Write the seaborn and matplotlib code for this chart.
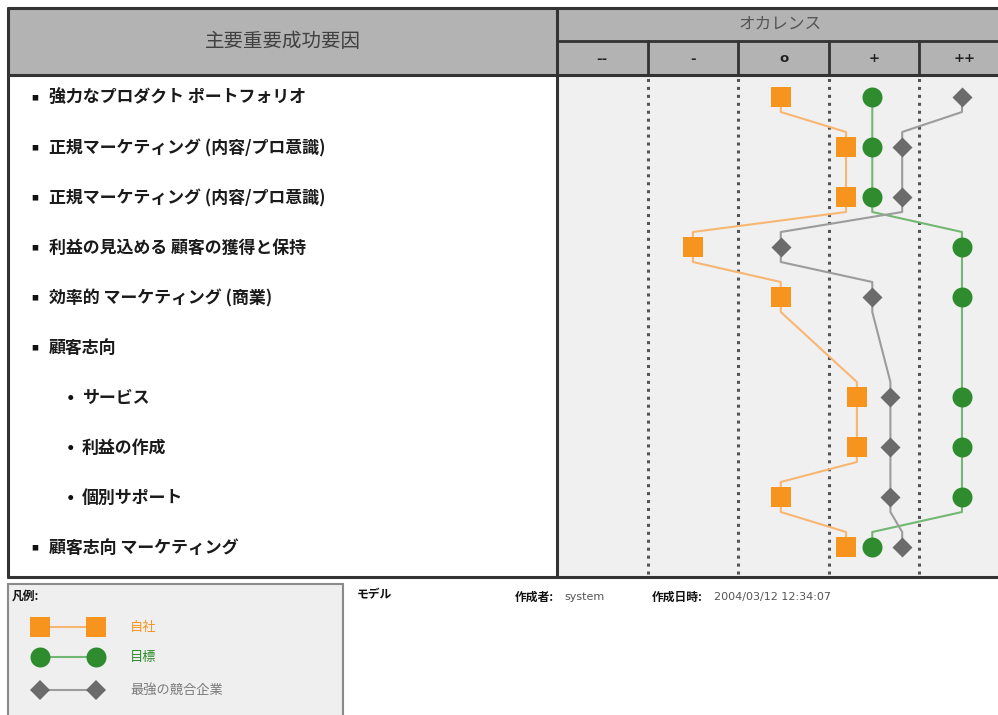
import numpy as np
import pandas as pd
import matplotlib
matplotlib.use("Agg")
import matplotlib.pyplot as plt
import seaborn as sns
from matplotlib.patches import Rectangle
from matplotlib.lines import Line2D

sns.set_style("white")
plt.rcParams['font.family'] = ['Noto Sans CJK JP', 'DejaVu Sans']

# ---------------- data ----------------
factors = ["強力なプロダクト ポートフォリオ",
           "正規マーケティング (内容/プロ意識)",
           "正規マーケティング (内容/プロ意識)",
           "利益の見込める 顧客の獲得と保持",
           "効率的 マーケティング (商業)",
           "顧客志向",
           "サービス",
           "利益の作成",
           "個別サポート",
           "顧客志向 マーケティング"]
levels = [0, 0, 0, 0, 0, 0, 1, 1, 1, 0]
columns = ["--", "-", "o", "+", "++"]
column_title = "オカレンス"
factor_title = "主要重要成功要因"
series_names = ["自社", "目標", "最強の競合企業"]
own = [-0.03, 0.69, 0.69, -1.0, -0.03, np.nan, 0.81, 0.81, -0.03, 0.69]
target = [0.98, 0.98, 0.98, 1.97, 1.97, np.nan, 1.97, 1.97, 1.97, 0.98]
competitor = [1.97, 1.31, 1.31, -0.03, 0.98, np.nan, 1.18, 1.18, 1.18, 1.31]
legend_title = "凡例:"
model_label = "モデル"
author_label = "作成者:"
author = "system"
date_label = "作成日時:"
date_value = "2004/03/12 12:34:07"

# ---------------- styles ----------------
marker_colors = ["#F7941E", "#2E8B2E", "#6B6B6B"]
line_colors = ["#F8B673", "#72B872", "#9C9C9C"]
text_colors = ["#F7941E", "#2E8B2E", "#7A7A7A"]
markers = ["s", "o", "D"]
msizes = [13.8, 14.4, 10.2]   # points

W, H = 998, 715
fig = plt.figure(figsize=(W / 100, H / 100), dpi=100)
fig.patch.set_facecolor("white")


def fx(px):
    return px / W


def fy(py):
    return 1 - py / H


def frect(x0, y0, x1, y1, **kw):
    r = Rectangle((fx(x0), fy(y1)), fx(x1) - fx(x0), fy(y0) - fy(y1),
                  transform=fig.transFigure, **kw)
    fig.add_artist(r)


def fline(x0, y0, x1, y1, **kw):
    fig.add_artist(Line2D([fx(x0), fx(x1)], [fy(y0), fy(y1)],
                          transform=fig.transFigure, **kw))


def ftext(x, y, s, **kw):
    fig.text(fx(x), fy(y), s, **kw)


# table geometry (px)
L, T, B, R = 8, 8, 577, 1010
SPLIT = 557
HROW = 41
HBOT = 75

# header fills
frect(L, T, R, HBOT, facecolor="#B3B3B3", edgecolor="none", zorder=1)
# left body
frect(L, HBOT, SPLIT, B, facecolor="white", edgecolor="none", zorder=1)

# ---------------- data axes ----------------
nrows = len(factors)
row_y0, row_step = 97, 50
ax = fig.add_axes([fx(SPLIT), fy(B), (R - SPLIT) / W, (B - HBOT) / H])
ax.set_facecolor("#F0F0F0")
ax.set_xlim(-2.5, 2.5)
ax.set_ylim((B - row_y0) / row_step, (HBOT - row_y0) / row_step)
for s in ax.spines.values():
    s.set_visible(False)

ax.vlines([-1.5, -0.5, 0.5, 1.5], -5, 15, colors="#555555",
          linestyles=(0, (1, 1.6)), linewidth=2.2, zorder=1)

rows = np.arange(nrows)
all_series = [own, target, competitor]
k = 0.3
for vals, lc in zip(all_series, line_colors):
    xs, ys = [], []
    valid = [(r, v) for r, v in zip(rows, vals) if not np.isnan(v)]
    for j, (r, v) in enumerate(valid):
        xs.append(v)
        ys.append(r - k if j > 0 else r)
        xs.append(v)
        ys.append(r + k if j < len(valid) - 1 else r)
    df = pd.DataFrame({"x": xs, "y": ys})
    sns.lineplot(data=df, x="x", y="y", sort=False, estimator=None,
                 color=lc, linewidth=1.5, ax=ax, zorder=2)

for vals, name, mc, mk, ms in zip(all_series, series_names, marker_colors,
                                  markers, msizes):
    df = pd.DataFrame({"value": vals, "row": rows}).dropna()
    sns.scatterplot(data=df, x="value", y="row", marker=mk, color=mc,
                    s=ms ** 2, linewidth=0, ax=ax, zorder=3, legend=False)
ax.set_xlabel("")
ax.set_ylabel("")
ax.set_xticks([])
ax.set_yticks([])

# ---------------- table lines ----------------
lc_tab = "#333333"
fline(L, T, R, T, color=lc_tab, lw=2.2, zorder=5)
fline(L, B, R, B, color=lc_tab, lw=2.2, zorder=5)
fline(L, T, L, B, color=lc_tab, lw=2.2, zorder=5)
fline(SPLIT, T, SPLIT, B, color=lc_tab, lw=2.2, zorder=5)
fline(L, HBOT, R, HBOT, color=lc_tab, lw=2.2, zorder=5)
fline(SPLIT, HROW, R, HROW, color=lc_tab, lw=2.0, zorder=5)
col_w = (R - SPLIT) / len(columns)
for i in range(1, len(columns)):
    xb = SPLIT + i * col_w
    fline(xb, HROW, xb, HBOT, color=lc_tab, lw=2.0, zorder=5)

# header texts
ftext((L + SPLIT) / 2, (T + HBOT) / 2, factor_title, ha="center", va="center",
      fontsize=14, color="#404040", zorder=6)
ftext((SPLIT + R) / 2 - 3, (T + HROW) / 2, column_title, ha="center",
      va="center", fontsize=12, color="#555555", zorder=6)
for i, c in enumerate(columns):
    cx = SPLIT + (i + 0.5) * col_w
    ftext(cx, (HROW + HBOT) / 2 + 1, c, ha="center", va="center",
          fontsize=9.5, fontweight="bold", color="#222222", zorder=6,
          family=["DejaVu Sans"])

# row labels
for r, (lab, lev) in enumerate(zip(factors, levels)):
    yc = row_y0 + r * row_step + 1
    if lev == 0:
        ftext(35, yc, "■", ha="center", va="center", fontsize=5,
              color="#111111", zorder=6)
        ftext(49, yc, lab, ha="left", va="center", fontsize=12.2,
              fontweight="bold", color="#1A1A1A", zorder=6)
    else:
        ftext(70, yc, "●", ha="center", va="center", fontsize=4,
              color="#111111", zorder=6)
        ftext(82, yc, lab, ha="left", va="center", fontsize=12.2,
              fontweight="bold", color="#1A1A1A", zorder=6)

# ---------------- legend box ----------------
frect(8, 584, 343, 740, facecolor="#EFEFEF", edgecolor="#8A8A8A", lw=1.5,
      zorder=1)
ftext(12, 596, legend_title, ha="left", va="center", fontsize=8.5,
      fontweight="bold", color="#111111")
leg_y = [627, 657, 690]
for yy, name, mc, lc, tc, mk, ms in zip(leg_y, series_names, marker_colors,
                                        line_colors, text_colors, markers,
                                        msizes):
    fig.add_artist(Line2D([fx(40), fx(96)], [fy(yy), fy(yy)],
                          transform=fig.transFigure, color=lc, lw=1.5,
                          marker=mk, markersize=ms, markerfacecolor=mc,
                          markeredgewidth=0, zorder=3))
    ftext(130, yy, name, ha="left", va="center", fontsize=9.5, color=tc)

# footer info
ftext(357, 595, model_label, ha="left", va="center", fontsize=8.5,
      fontweight="bold", color="#111111")
ftext(515, 597, author_label, ha="left", va="center", fontsize=8.5,
      fontweight="bold", color="#111111")
ftext(564, 597, author, ha="left", va="center", fontsize=8,
      color="#555555", family=["DejaVu Sans"])
ftext(652, 597, date_label, ha="left", va="center", fontsize=8.5,
      fontweight="bold", color="#111111")
ftext(714, 597, date_value, ha="left", va="center", fontsize=8,
      color="#555555", family=["DejaVu Sans"])

fig.savefig("out.png", dpi=100, facecolor="white")
